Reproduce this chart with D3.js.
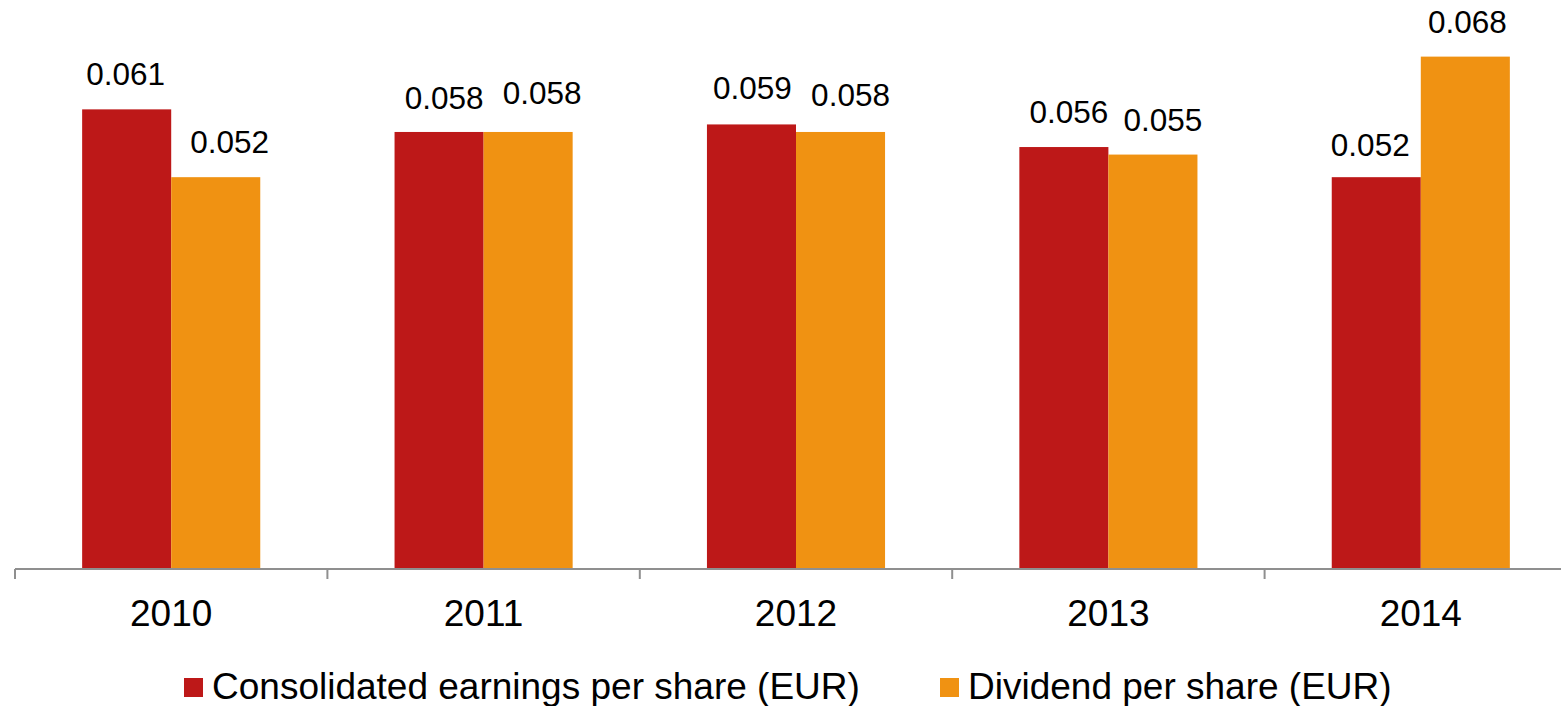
<!DOCTYPE html>
<html><head><meta charset="utf-8">
<script src="https://cdn.jsdelivr.net/npm/d3@7"></script>
<style>body{margin:0;background:#fff;overflow:hidden}svg{display:block;font-family:"Liberation Sans",Arial,sans-serif}</style>
</head><body>
<svg id="c" width="1561" height="706"></svg>
<script>
const categories = ["2010","2011","2012","2013","2014"];
const seriesNames = ["Consolidated earnings per share (EUR)","Dividend per share (EUR)"];
const earnings = [0.061,0.058,0.059,0.056,0.052];
const dividend = [0.052,0.058,0.058,0.055,0.068];
const colors = ["#BD1818","#F09212"];

function draw(){
  // manual label nudges (layout only), per series/category: [dx, gap above bar]
  const labelNudge = [
    [[-1,24],[5,23],[1,25],[5,24],[-6,21]],
    [[14,24],[14,28],[10,26],[10,24],[2,24]]
  ];
  const svg = d3.select("#c");
  const baseY = 569;
  const x0 = d3.scaleBand().domain(categories).range([15, 15 + 312.4*5]).paddingInner(0).paddingOuter(0);
  const x1 = d3.scaleBand().domain([0,1]).range([0, x0.bandwidth()]).paddingOuter(0.754).paddingInner(0);
  const y = d3.scaleLinear().domain([0, 0.08]).range([baseY, baseY - 0.08*7535]);

  const series = [earnings, dividend];
  categories.forEach((c,i)=>{
    series.forEach((s,j)=>{
      const bx = x0(c)+x1(j), bw = x1.bandwidth();
      const [dx, gap] = labelNudge[j][i];
      svg.append("rect").attr("x",bx).attr("y",y(s[i])).attr("width",bw).attr("height",baseY-y(s[i])).attr("fill",colors[j]);
      svg.append("text").attr("x",bx+bw/2+dx).attr("y",y(s[i])-gap).attr("text-anchor","middle")
        .attr("font-size",31.5).attr("fill","#000").text(d3.format(".3f")(s[i]));
    });
  });

  const g = svg.append("g").attr("transform",`translate(0,${baseY})`);
  g.append("line").attr("x1",15).attr("x2",1561).attr("y1",0).attr("y2",0).attr("stroke","#8f8f8f").attr("stroke-width",2);
  categories.forEach(c=>{
    g.append("line").attr("x1",x0(c)).attr("x2",x0(c)).attr("y1",0).attr("y2",10).attr("stroke","#8f8f8f").attr("stroke-width",2);
  });
  categories.forEach(c=>{
    g.append("text").attr("x",x0(c)+x0.bandwidth()/2).attr("y",57).attr("text-anchor","middle")
     .attr("font-size",37).attr("fill","#000").text(c);
  });

  const leg = [{x:184, tx:212},{x:940, tx:968}];
  seriesNames.forEach((n,j)=>{
    svg.append("rect").attr("x",leg[j].x).attr("y",678).attr("width",19).attr("height",19).attr("fill",colors[j]);
    svg.append("text").attr("x",leg[j].tx).attr("y",699).attr("font-size",37).attr("fill","#000").text(n);
  });
}
draw();
</script>
</body></html>
